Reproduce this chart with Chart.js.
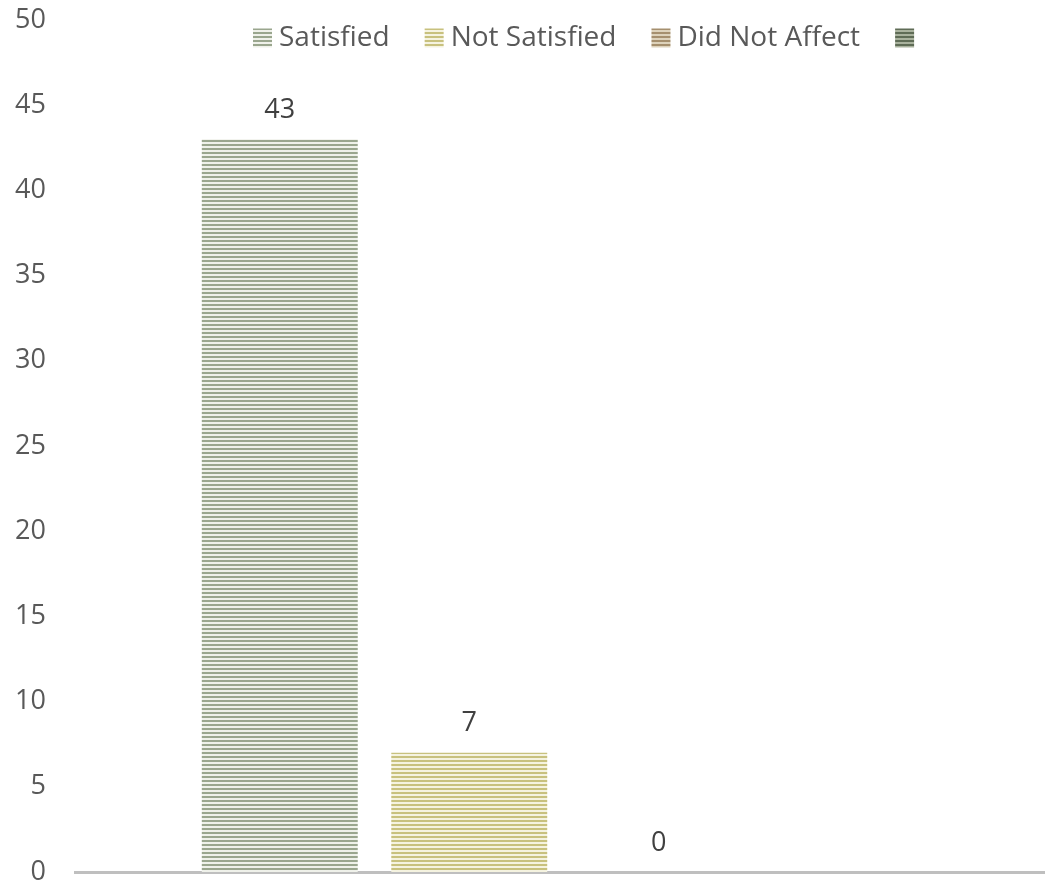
<!DOCTYPE html>
<html>
<head>
<meta charset="utf-8">
<script src="https://cdn.jsdelivr.net/npm/chart.js@4.4.1/dist/chart.umd.min.js"></script>
<style>
  html, body { margin: 0; padding: 0; background: #ffffff; overflow: hidden; }
  #wrap { width: 1053px; height: 887px; position: relative; }
</style>
</head>
<body>
<div id="wrap"><canvas id="c" width="1053" height="887"></canvas></div>
<script>
// ---- data ----
const categories = [""];
const seriesNames = ["Satisfied", "Not Satisfied", "Did Not Affect", ""];
const satisfied = [43];
const notSatisfied = [7];
const didNotAffect = [0];
const fourth = [null];
const yTicks = [0, 5, 10, 15, 20, 25, 30, 35, 40, 45, 50];

// ---- styles ----
const FONT = "'Open Sans', 'Noto Sans', sans-serif";
function stripe(dark, light) {
  const c = document.createElement('canvas');
  c.width = 4; c.height = 4;
  const g = c.getContext('2d');
  g.fillStyle = light; g.fillRect(0, 0, 4, 4);
  g.fillStyle = dark; g.fillRect(0, 0, 4, 2);
  return g.createPattern(c, 'repeat');
}
const fills = [
  stripe('#9aa68e', '#eff1ea'),
  stripe('#c8c17e', '#f5f3e0'),
  stripe('#a58f6e', '#ddd2bb'),
  stripe('#5f6c56', '#a9b29e')
];

const valueLabels = {
  id: 'valueLabels',
  afterDatasetsDraw(chart) {
    const ctx = chart.ctx;
    ctx.save();
    ctx.font = "27px " + FONT;
    ctx.fillStyle = '#404040';
    ctx.textAlign = 'center';
    ctx.textBaseline = 'middle';
    chart.data.datasets.forEach((ds, i) => {
      const meta = chart.getDatasetMeta(i);
      meta.data.forEach((el, j) => {
        const v = ds.data[j];
        if (v === null || v === undefined) return;
        ctx.fillText(String(v), el.x, el.y - 29);
      });
    });
    ctx.restore();
  }
};

const topLegend = {
  id: 'topLegend',
  afterDraw(chart) {
    const ctx = chart.ctx;
    ctx.save();
    ctx.font = "28px " + FONT;
    ctx.textBaseline = 'middle';
    ctx.textAlign = 'left';
    let x = 253;
    const yc = 38, box = 19;
    chart.data.datasets.forEach((ds, i) => {
      ctx.fillStyle = ds.backgroundColor;
      ctx.fillRect(x, yc - box / 2, box, box);
      x += box + 7;
      if (ds.label) {
        ctx.fillStyle = '#595959';
        ctx.fillText(ds.label, x, yc);
        x += ctx.measureText(ds.label).width + 35;
      }
    });
    ctx.restore();
  }
};

const allSeries = [satisfied, notSatisfied, didNotAffect, fourth];

new Chart(document.getElementById('c'), {
  type: 'bar',
  data: {
    labels: categories,
    datasets: allSeries.map((d, i) => ({
      label: seriesNames[i],
      data: d,
      backgroundColor: fills[i],
      borderWidth: 0,
      categoryPercentage: 0.775,
      barPercentage: 0.823
    }))
  },
  options: {
    responsive: false,
    animation: false,
    devicePixelRatio: 1,
    layout: { padding: { top: 20, bottom: 15, left: 0, right: 0 } },
    plugins: {
      tooltip: { enabled: false },
      legend: { display: false }
    },
    scales: {
      x: {
        grid: { display: false, drawTicks: false },
        ticks: { display: false },
        border: { display: true, color: '#bfbfbf', width: 3 },
        afterFit(scale) { scale.height = 0; scale.paddingLeft = 0; scale.paddingRight = 0; }
      },
      y: {
        min: 0, max: 50,
        afterFit(scale) { scale.width = 75; scale.paddingTop = 0; scale.paddingBottom = 0; },
        afterBuildTicks(scale) { scale.ticks = yTicks.map(v => ({ value: v })); },
        grid: { display: false, drawTicks: false },
        border: { display: false },
        ticks: {
          font: { family: FONT, size: 27 },
          color: '#595959',
          padding: 29
        }
      }
    }
  },
  plugins: [valueLabels, topLegend]
});
</script>
</body>
</html>
